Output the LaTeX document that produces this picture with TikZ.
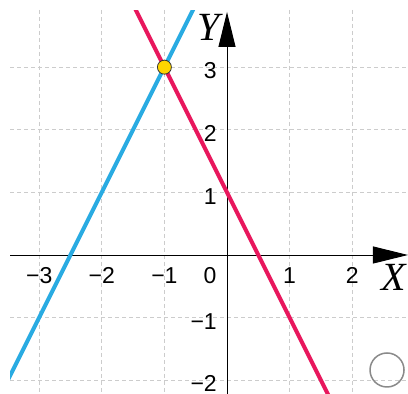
\documentclass[tikz,border=0pt]{standalone}
\usepackage{fontspec}
\setmainfont{Liberation Sans}
\newfontfamily\axisfont{Liberation Serif}
\usetikzlibrary{arrows.meta}
\definecolor{gridgray}{HTML}{CCCCCC}
\definecolor{lineblue}{HTML}{29ABE2}
\definecolor{linered}{HTML}{E8175D}
\definecolor{dotyellow}{HTML}{FFD500}
\definecolor{ringgray}{HTML}{8A8A8A}
\begin{document}
\begin{tikzpicture}[x=62.6bp,y=62.6bp,
  gridline/.style={gridgray,line width=0.9bp,dash pattern=on 4bp off 3bp},
  axisline/.style={black,line width=0.9bp,-{Triangle[length=35bp,width=17bp]}},
  ticklabel/.style={inner sep=0pt,font=\fontsize{23bp}{25bp}\selectfont},
  axislabel/.style={inner sep=0pt,font=\axisfont\itshape\fontsize{40bp}{42bp}\selectfont},
  graphline/.style={line width=4bp}]
\useasboundingbox (-3.626,-2.220) rectangle (2.891,4.073);
% grid
\foreach \k in {-3,-2,-1,1,2}
  \draw[gridline] (\k,3.914) -- (\k,-2.22);
\foreach \k in {-2,-1,1,2,3}
  \draw[gridline] (-3.466,\k) -- (2.891,\k);
% axes
\coordinate (xs) at (-3.466,0);
\coordinate (xe) at (2.891,0);
\coordinate (ys) at (0,-2.22);
\coordinate (ye) at (0,3.882);
\draw[axisline] (xs) -- (xe);
\draw[axisline] (ys) -- (ye);
% labels
\foreach \k/\t in {-3/−3,-2/−2,-1/−1,1/1,2/2}
  \node[ticklabel] (xl\k) at (\k,-0.335) {\t};
\node[ticklabel] (zero) at (-0.27,-0.335) {0};
\foreach \k/\t in {3/3,2/2,1/1,-1/−1,-2/−2}
  \node[ticklabel,anchor=east] (yl\k) at (-0.16,\k-0.06) {\t};
\node[axislabel] (ylab) at (-0.29,3.63) {Y};
\node[axislabel] (xlab) at (2.67,-0.36) {X};
% lines
\begin{scope}
\clip (-3.466,-2.22) rectangle (2.891,3.898);
\draw[graphline,lineblue] (-3.7,-2.4) -- (-0.4,4.2);
\draw[graphline,linered] (-1.7,4.4) -- (1.7,-2.4);
\end{scope}
\node[circle,draw=black!80,line width=0.8bp,fill=dotyellow,minimum size=14bp,inner sep=0pt] (P) at (-1,3) {};
\node[circle,draw=ringgray,line width=1.5bp,minimum size=34bp,inner sep=0pt] (ring) at (2.556,-1.837) {};
\end{tikzpicture}
\end{document}
